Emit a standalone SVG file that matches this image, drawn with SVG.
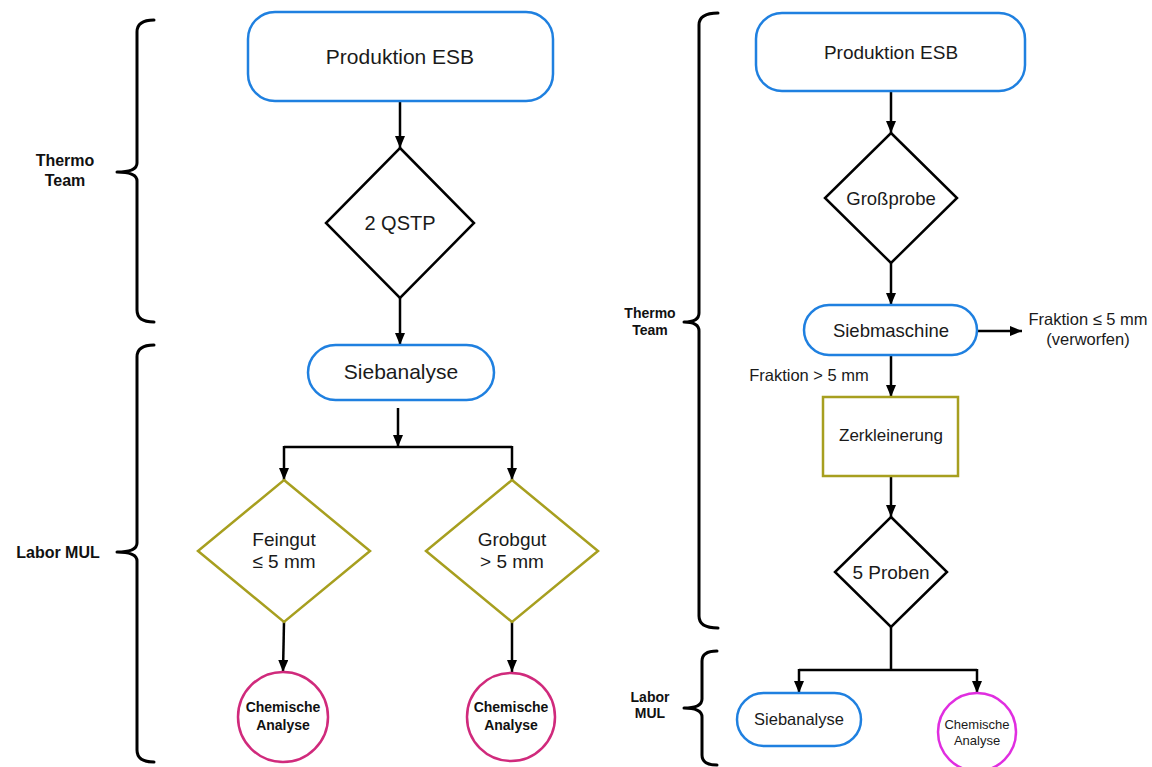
<svg xmlns="http://www.w3.org/2000/svg" width="1152" height="767" viewBox="0 0 1152 767">
<defs>
<marker id="ah" viewBox="0 0 12 10" refX="12" refY="5" markerWidth="12" markerHeight="10" markerUnits="userSpaceOnUse" orient="auto">
<path d="M0,0 L12,5 L0,10 Z" fill="#000"/>
</marker>
<style>
.t{font-family:"Liberation Sans",Arial,sans-serif;fill:#1a1a1a;text-anchor:middle}
.lbl{font-family:"Liberation Sans",Arial,sans-serif;font-weight:bold;fill:#111;text-anchor:middle}
.blue{fill:#fff;stroke:#1f80e0;stroke-width:2.5}
.olive{fill:#fff;stroke:#a79f1f;stroke-width:2.5}
.dia{fill:#fff;stroke:#000;stroke-width:2.5}
.pink{fill:#fff;stroke:#d02a7c;stroke-width:2.5}
.mag{fill:#fff;stroke:#e02ee0;stroke-width:2.5}
.br{fill:none;stroke:#000;stroke-width:3;stroke-linejoin:round;stroke-linecap:round}
.c{fill:none;stroke:#000;stroke-width:2.5}
.ca{fill:none;stroke:#000;stroke-width:2.5;marker-end:url(#ah)}
</style>
</defs>
<rect width="1152" height="767" fill="#fff"/>

<g id="brackets">
<path class="br" d="M154,20 Q137,20 137,32 L137,163 Q137,172 117,172 Q137,172 137,181 L137,310 Q137,322 154,322"/>
<path class="br" d="M154,345 Q137,345 137,357 L137,543 Q137,552 117,552 Q137,552 137,561 L137,750 Q137,762 154,762"/>
<path class="br" d="M718,13 Q699,13 699,25 L699,313 Q699,322 684,322 Q699,322 699,331 L699,616 Q699,628 718,628"/>
<path class="br" d="M717,651 Q702,651 702,661 L702,699 Q702,708 684,708 Q702,708 702,717 L702,755 Q702,765 717,765"/>
</g>
<g id="labels">
<text class="lbl" x="65" y="166" font-size="16">Thermo</text>
<text class="lbl" x="65" y="186" font-size="16">Team</text>
<text class="lbl" x="58" y="558" font-size="16">Labor MUL</text>
<text class="lbl" x="650" y="318" font-size="14">Thermo</text>
<text class="lbl" x="650" y="335" font-size="14">Team</text>
<text class="lbl" x="650" y="702" font-size="14">Labor</text>
<text class="lbl" x="650" y="718" font-size="14">MUL</text>
</g>

<g id="connectors">
<line class="ca" x1="400" y1="101" x2="400" y2="148"/>
<line class="ca" x1="400" y1="298" x2="400" y2="345"/>
<line class="ca" x1="398" y1="408" x2="398" y2="447"/>
<line class="c" x1="284" y1="447" x2="512" y2="447"/>
<line class="ca" x1="284" y1="446" x2="284" y2="480"/>
<line class="ca" x1="512" y1="446" x2="512" y2="480"/>
<line class="ca" x1="284" y1="622" x2="283" y2="672"/>
<line class="ca" x1="512" y1="622" x2="512" y2="672"/>

<line class="ca" x1="891" y1="91" x2="891" y2="133"/>
<line class="ca" x1="891" y1="263" x2="891" y2="305"/>
<line class="ca" x1="977" y1="331" x2="1022" y2="331"/>
<line class="ca" x1="891" y1="355" x2="891" y2="397"/>
<line class="ca" x1="891" y1="476" x2="891" y2="517"/>
<line class="c" x1="891" y1="627" x2="891" y2="670"/>
<line class="c" x1="799" y1="670" x2="977" y2="670"/>
<line class="ca" x1="799" y1="669" x2="799" y2="693"/>
<line class="ca" x1="977" y1="669" x2="977" y2="693"/>
</g>

<g id="l-produktion">
<rect class="blue" x="248" y="12" width="305" height="89" rx="27"/>
<text class="t" x="400" y="64" font-size="21">Produktion ESB</text>
</g>
<g id="l-qstp">
<polygon class="dia" points="400,148 474,223 400,298 326,223"/>
<text class="t" x="400" y="230" font-size="20">2 QSTP</text>
</g>
<g id="l-siebanalyse">
<rect class="blue" x="308" y="345" width="186" height="55" rx="27.5"/>
<text class="t" x="401" y="379" font-size="21">Siebanalyse</text>
</g>
<g id="l-feingut">
<polygon class="olive" points="284,480 370,551 284,622 198,551"/>
<text class="t" x="284" y="546" font-size="19">Feingut</text>
<text class="t" x="284" y="568" font-size="19">≤ 5 mm</text>
</g>
<g id="l-grobgut">
<polygon class="olive" points="512,480 598,551 512,622 426,551"/>
<text class="t" x="512" y="546" font-size="19">Grobgut</text>
<text class="t" x="512" y="568" font-size="19">&gt; 5 mm</text>
</g>
<g id="l-chem1">
<circle class="pink" cx="283" cy="717" r="45"/>
<text class="lbl" x="283" y="712" font-size="14">Chemische</text>
<text class="lbl" x="283" y="730" font-size="14">Analyse</text>
</g>
<g id="l-chem2">
<circle class="pink" cx="511" cy="717" r="44"/>
<text class="lbl" x="511" y="712" font-size="14">Chemische</text>
<text class="lbl" x="511" y="730" font-size="14">Analyse</text>
</g>

<g id="r-produktion">
<rect class="blue" x="756" y="13" width="269" height="78" rx="26"/>
<text class="t" x="891" y="59" font-size="19">Produktion ESB</text>
</g>
<g id="r-grossprobe">
<polygon class="dia" points="891,133 957,198 891,263 825,198"/>
<text class="t" x="891" y="205" font-size="18.5">Großprobe</text>
</g>
<g id="r-siebmaschine">
<rect class="blue" x="804" y="305" width="173" height="50" rx="25"/>
<text class="t" x="891" y="337" font-size="18.5">Siebmaschine</text>
</g>
<g id="r-verworfen">
<text class="t" x="1088" y="325" font-size="16.5">Fraktion ≤ 5 mm</text>
<text class="t" x="1088" y="345" font-size="16.5">(verworfen)</text>
</g>
<g id="r-fraktion-gross">
<text class="t" x="809" y="381" font-size="16.5">Fraktion &gt; 5 mm</text>
</g>
<g id="r-zerkleinerung">
<rect class="olive" x="823" y="397" width="135" height="79"/>
<text class="t" x="891" y="441" font-size="17">Zerkleinerung</text>
</g>
<g id="r-proben">
<polygon class="dia" points="891,517 947,572 891,627 835,572"/>
<text class="t" x="891" y="579" font-size="19">5 Proben</text>
</g>
<g id="r-siebanalyse">
<rect class="blue" x="737" y="693" width="124" height="53" rx="26.5"/>
<text class="t" x="799" y="725" font-size="16.5">Siebanalyse</text>
</g>
<g id="r-chem">
<circle class="mag" cx="977" cy="732" r="39"/>
<text class="t" x="977" y="729" font-size="13">Chemische</text>
<text class="t" x="977" y="745" font-size="13">Analyse</text>
</g>
</svg>
